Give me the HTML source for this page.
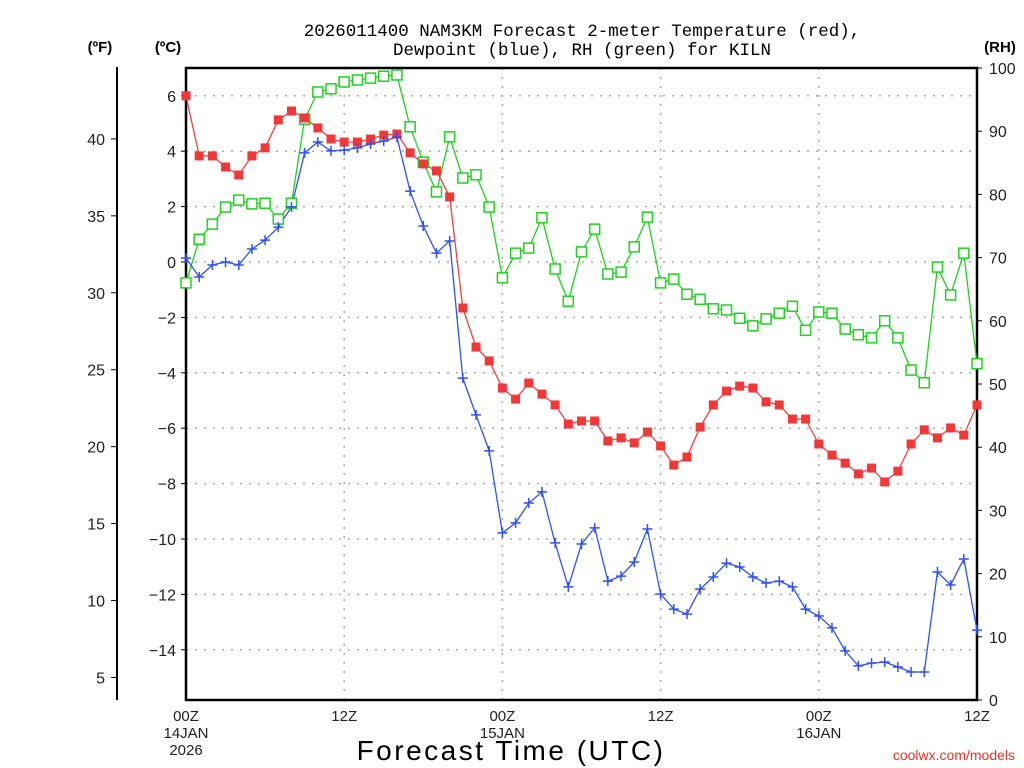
<!DOCTYPE html>
<html><head><meta charset="utf-8"><style>
body{margin:0;background:#fff;}
svg{display:block;font-family:"Liberation Sans","DejaVu Sans",sans-serif;}
</style></head><body>
<svg id="chart" width="1024" height="768" viewBox="0 0 1024 768">
<g id="grid"></g>
<g id="axes"></g>
<g id="series"></g>
<text x="582" y="36" text-anchor="middle" font-size="17.5" font-family="Liberation Mono, DejaVu Sans Mono, monospace">2026011400 NAM3KM Forecast 2-meter Temperature (red),</text>
<text x="582" y="55" text-anchor="middle" font-size="17.5" font-family="Liberation Mono, DejaVu Sans Mono, monospace">Dewpoint (blue), RH (green) for KILN</text>
<text x="100" y="52" text-anchor="middle" font-size="15" font-weight="bold">(ºF)</text>
<text x="168" y="52" text-anchor="middle" font-size="15" font-weight="bold">(ºC)</text>
<text x="1000" y="52" text-anchor="middle" font-size="15" font-weight="bold">(RH)</text>
<text x="511" y="760" text-anchor="middle" font-size="28" letter-spacing="2.5">Forecast Time (UTC)</text>
<text x="1015" y="760" text-anchor="end" font-size="14" fill="#e83030">coolwx.com/models</text>
</svg>
<script>
const hours = Array.from({length:61},(_,i)=>i);
const tempC = [6.0,3.83,3.83,3.43,3.14,3.83,4.12,5.13,5.45,5.2,4.84,4.44,4.33,4.33,4.44,4.58,4.62,3.94,3.54,3.29,2.35,-1.66,-3.07,-3.57,-4.55,-4.95,-4.37,-4.77,-5.16,-5.85,-5.74,-5.74,-6.46,-6.35,-6.53,-6.14,-6.64,-7.33,-7.04,-5.96,-5.16,-4.66,-4.48,-4.55,-5.05,-5.16,-5.67,-5.67,-6.57,-6.97,-7.26,-7.65,-7.44,-7.94,-7.55,-6.57,-6.06,-6.35,-5.99,-6.25,-5.16];
const dewC = [0.14,-0.54,-0.11,0,-0.11,0.47,0.79,1.26,1.99,3.94,4.33,4.01,4.04,4.12,4.26,4.37,4.51,2.56,1.3,0.32,0.76,-4.19,-5.52,-6.82,-9.78,-9.42,-8.7,-8.3,-10.14,-11.73,-10.18,-9.6,-11.52,-11.34,-10.83,-9.64,-11.99,-12.53,-12.71,-11.81,-11.37,-10.87,-11.01,-11.37,-11.59,-11.52,-11.73,-12.53,-12.78,-13.21,-14.04,-14.58,-14.48,-14.44,-14.62,-14.8,-14.8,-11.19,-11.66,-10.72,-13.29];
const rh = [66.0,72.9,75.3,78.0,79.1,78.5,78.6,76.1,78.6,91.9,96.2,96.7,97.8,98.1,98.4,98.7,98.9,90.7,85.1,80.4,89.1,82.6,83.1,78.0,66.8,70.7,71.5,76.3,68.2,63.1,70.9,74.5,67.4,67.7,71.7,76.4,66.0,66.6,64.2,63.4,61.9,61.7,60.4,59.2,60.3,61.2,62.3,58.5,61.4,61.2,58.7,57.8,57.3,60.0,57.3,52.2,50.2,68.5,64.1,70.7,53.2];
const cTicks = [6,4,2,0,-2,-4,-6,-8,-10,-12,-14];
const fTicks = [40,35,30,25,20,15,10,5];
const rhTicks = [0,10,20,30,40,50,60,70,80,90,100];
const xTickHours = [0,12,24,36,48,60];
const xTickLabels = [["00Z","14JAN","2026"],["12Z"],["00Z","15JAN"],["12Z"],["00Z","16JAN"],["12Z"]];

const L=186,R=977,T=68,B=700;
const xs=h=>L+(h/60)*(R-L);
const yC=c=>262-c*27.7;
const yRH=v=>B-(v/100)*(B-T);
const yF=f=>yC((f-32)/1.8);
const NS="http://www.w3.org/2000/svg";
function mk(tag,attrs,parent){const e=document.createElementNS(NS,tag);for(const k in attrs)e.setAttribute(k,attrs[k]);parent.appendChild(e);return e;}
const grid=document.getElementById('grid'),axes=document.getElementById('axes'),series=document.getElementById('series');

cTicks.forEach(c=>{const y=yC(c);
 const g=mk('line',{x1:L,x2:R,y1:y,y2:y,stroke:'#aaa','stroke-width':1.5,'stroke-dasharray':'2 7'},grid);
 
 
 const t=mk('line',{x1:L-5,x2:L,y1:y,y2:y,stroke:'#000'},axes);
 
 
 const lb=mk('text',{x:L-10,y:y+6,'text-anchor':'end','font-size':16,fill:'#222'},axes);
 lb.textContent=c<0?'\u2212'+Math.abs(c):String(c);
 
 
});
xTickHours.forEach((h,i)=>{const x=xs(h);
 if(i>0&&i<xTickHours.length-1){const g=mk('line',{x1:x,x2:x,y1:T,y2:B,stroke:'#aaa','stroke-width':1.5,'stroke-dasharray':'2 7'},grid);
 
 }
 xTickLabels[i].forEach((s,j)=>{const lb=mk('text',{x:x,y:721+j*17,'text-anchor':'middle','font-size':15,fill:'#222'},axes);
 lb.textContent=s;
 
 });
});
fTicks.forEach(f=>{const y=yF(f);
 const t=mk('line',{x1:111,x2:117,y1:y,y2:y,stroke:'#000'},axes);
 
 
 const lb=mk('text',{x:105,y:y+6,'text-anchor':'end','font-size':16,fill:'#222'},axes);
 lb.textContent=String(f);
 
 
});
rhTicks.forEach(v=>{const y=yRH(v);
 const t=mk('line',{x1:R,x2:R+5,y1:y,y2:y,stroke:'#000'},axes);
 
 
 const lb=mk('text',{x:R+12,y:y+6,'font-size':16,fill:'#222'},axes);
 lb.textContent=String(v);
 
 
});
const fr=mk('rect',{x:L,y:T,width:R-L,height:B-T,fill:'none',stroke:'#000','stroke-width':2.5},axes);


const fa=mk('line',{x1:117,x2:117,y1:67,y2:700,stroke:'#000','stroke-width':2},axes);



function line(vals,yfn,color,name){
 const pts=vals.map((v,i)=>xs(hours[i]).toFixed(1)+','+yfn(v).toFixed(1)).join(' ');
 const p=mk('polyline',{points:pts,fill:'none',stroke:color,'stroke-width':1.3},series);
 
 
}
line(rh,yRH,'#1ed01e','rh');
line(tempC,yC,'#f04040','temperature');
line(dewC,yC,'#3050f8','dewpoint');
rh.forEach((v,i)=>{const m=mk('rect',{x:xs(hours[i])-5,y:yRH(v)-5,width:10,height:10,fill:'#fff',stroke:'#22d022','stroke-width':1.5},series);
 
 });
tempC.forEach((v,i)=>{const m=mk('rect',{x:xs(hours[i])-4.5,y:yC(v)-4.5,width:9,height:9,fill:'#f03838'},series);
 
 });
dewC.forEach((v,i)=>{const x=xs(hours[i]),y=yC(v);
 const m=mk('path',{d:`M${x-5},${y}H${x+5}M${x},${y-5}V${y+5}`,stroke:'#3050f8','stroke-width':1.5},series);
 
 });
</script>
</body></html>
